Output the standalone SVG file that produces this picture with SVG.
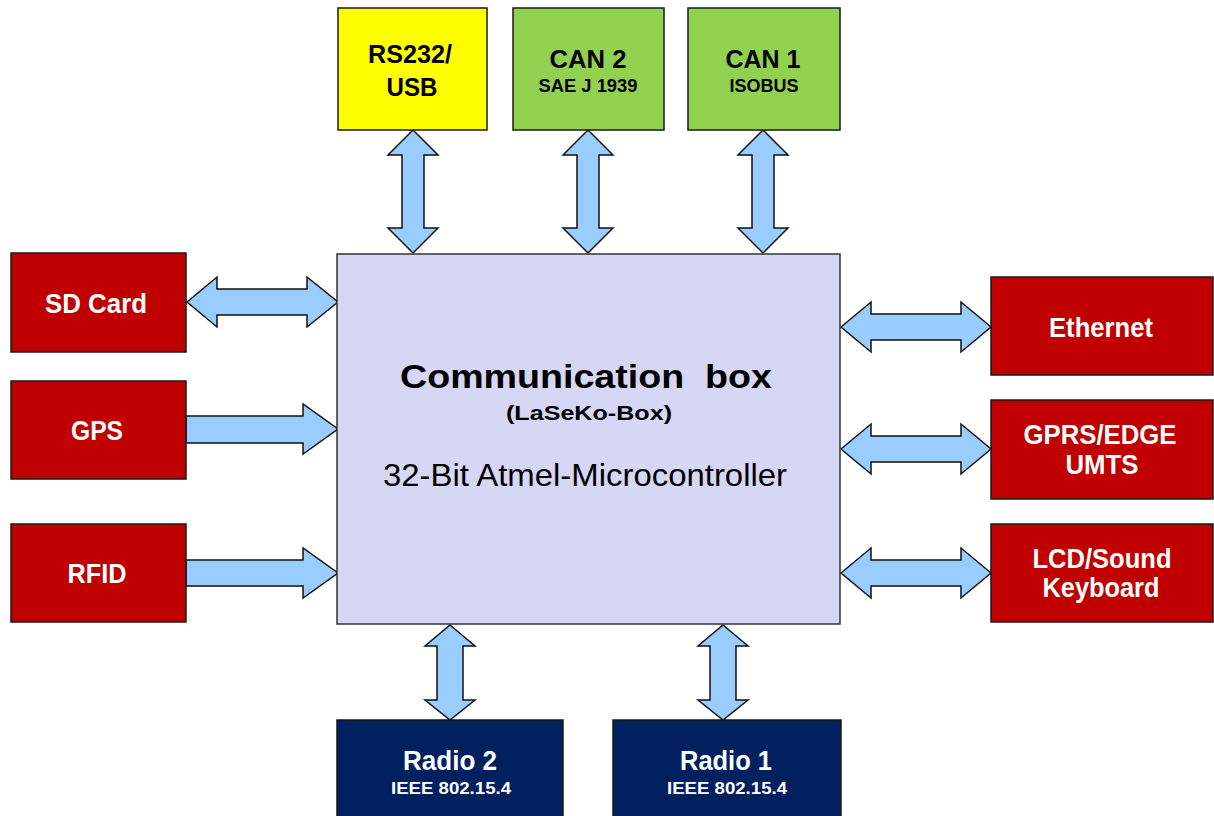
<svg xmlns="http://www.w3.org/2000/svg" width="1214" height="816" viewBox="0 0 1214 816">
<style>
.box{stroke:#1a1a1a;stroke-width:1.5}
.red{fill:#c00000}
.navy{fill:#002060}
.green{fill:#92d050}
.yellow{fill:#ffff00}
.main{fill:#d6d6f5;stroke:#333;stroke-width:1.5}
.arr{fill:#99ccff;stroke:#111;stroke-width:1.5;stroke-linejoin:miter}
text{font-family:"Liberation Sans",Arial,sans-serif;text-anchor:middle}
.b{font-weight:bold}
.w{fill:#fff}
.k{fill:#000}
</style>
<rect width="1214" height="816" fill="#fff"/>
<g id="connectors">
<polygon class="arr" points="413,130 438,155 424,155 424,228 438,228 413,253 388,228 402,228 402,155 388,155"/>
<polygon class="arr" points="588,130 613,155 599,155 599,228 613,228 588,253 563,228 577,228 577,155 563,155"/>
<polygon class="arr" points="763,130 788,155 774,155 774,228 788,228 763,253 738,228 752,228 752,155 738,155"/>
<polygon class="arr" points="187,302 217,277 217,289 307,289 307,277 338,302 307,327 307,315 217,315 217,327"/>
<polygon class="arr" points="186,416 303,416 303,404 338,429 303,454 303,443 186,443"/>
<polygon class="arr" points="186,560 303,560 303,548 338,573 303,598 303,586 186,586"/>
<polygon class="arr" points="841,327 871,302 871,314 961,314 961,302 991,327 961,352 961,340 871,340 871,352"/>
<polygon class="arr" points="841,449 871,424 871,436 961,436 961,424 991,449 961,474 961,462 871,462 871,474"/>
<polygon class="arr" points="841,573 871,548 871,560 961,560 961,548 991,573 961,598 961,586 871,586 871,598"/>
<polygon class="arr" points="450,625 475,646 463,646 463,700 475,700 450,720 425,700 437,700 437,646 425,646"/>
<polygon class="arr" points="723,625 748,646 736,646 736,700 748,700 723,720 698,700 710,700 710,646 698,646"/>
</g>
<g id="main">
<rect class="main" x="337" y="254" width="503" height="370"/>
<text class="b k" x="586" y="388" font-size="34" textLength="372" lengthAdjust="spacingAndGlyphs">Communication&#160; box</text>
<text class="b k" x="589" y="420" font-size="20" textLength="166" lengthAdjust="spacingAndGlyphs">(LaSeKo-Box)</text>
<text class="k" x="585" y="486" font-size="32" textLength="404" lengthAdjust="spacingAndGlyphs">32-Bit Atmel-Microcontroller</text>
</g>
<g id="rs232">
<rect class="box yellow" x="338" y="8" width="149" height="122"/>
<text class="b k" x="410" y="63" font-size="25" textLength="84" lengthAdjust="spacingAndGlyphs">RS232/</text>
<text class="b k" x="412" y="96" font-size="25" textLength="51" lengthAdjust="spacingAndGlyphs">USB</text>
</g>
<g id="can2">
<rect class="box green" x="513" y="8" width="151" height="122"/>
<text class="b k" x="588" y="68" font-size="25" textLength="77" lengthAdjust="spacingAndGlyphs">CAN 2</text>
<text class="b k" x="588" y="92" font-size="18" textLength="99" lengthAdjust="spacingAndGlyphs">SAE J 1939</text>
</g>
<g id="can1">
<rect class="box green" x="688" y="8" width="152" height="122"/>
<text class="b k" x="763" y="68" font-size="25" textLength="75" lengthAdjust="spacingAndGlyphs">CAN 1</text>
<text class="b k" x="764" y="92" font-size="18" textLength="69" lengthAdjust="spacingAndGlyphs">ISOBUS</text>
</g>
<g id="sdcard">
<rect class="box red" x="11" y="253" width="175" height="99"/>
<text class="b w" x="96" y="313" font-size="27" textLength="102" lengthAdjust="spacingAndGlyphs">SD Card</text>
</g>
<g id="gps">
<rect class="box red" x="11" y="381" width="175" height="98"/>
<text class="b w" x="97" y="440" font-size="27" textLength="52" lengthAdjust="spacingAndGlyphs">GPS</text>
</g>
<g id="rfid">
<rect class="box red" x="11" y="524" width="175" height="98"/>
<text class="b w" x="97" y="583" font-size="27" textLength="59" lengthAdjust="spacingAndGlyphs">RFID</text>
</g>
<g id="ethernet">
<rect class="box red" x="991" y="277" width="222" height="98"/>
<text class="b w" x="1101" y="337" font-size="27" textLength="104" lengthAdjust="spacingAndGlyphs">Ethernet</text>
</g>
<g id="gprs">
<rect class="box red" x="991" y="400" width="222" height="99"/>
<text class="b w" x="1100" y="444" font-size="27" textLength="153" lengthAdjust="spacingAndGlyphs">GPRS/EDGE</text>
<text class="b w" x="1102" y="474" font-size="27" textLength="73" lengthAdjust="spacingAndGlyphs">UMTS</text>
</g>
<g id="lcd">
<rect class="box red" x="991" y="524" width="222" height="98"/>
<text class="b w" x="1102" y="568" font-size="27" textLength="139" lengthAdjust="spacingAndGlyphs">LCD/Sound</text>
<text class="b w" x="1101" y="597" font-size="27" textLength="117" lengthAdjust="spacingAndGlyphs">Keyboard</text>
</g>
<g id="radio2">
<rect class="box navy" x="337" y="720" width="226" height="100"/>
<text class="b w" x="450" y="770" font-size="27" textLength="94" lengthAdjust="spacingAndGlyphs">Radio 2</text>
<text class="b w" x="451" y="794" font-size="17" textLength="120" lengthAdjust="spacingAndGlyphs">IEEE 802.15.4</text>
</g>
<g id="radio1">
<rect class="box navy" x="613" y="720" width="228" height="100"/>
<text class="b w" x="726" y="770" font-size="27" textLength="92" lengthAdjust="spacingAndGlyphs">Radio 1</text>
<text class="b w" x="727" y="794" font-size="17" textLength="120" lengthAdjust="spacingAndGlyphs">IEEE 802.15.4</text>
</g>
</svg>
